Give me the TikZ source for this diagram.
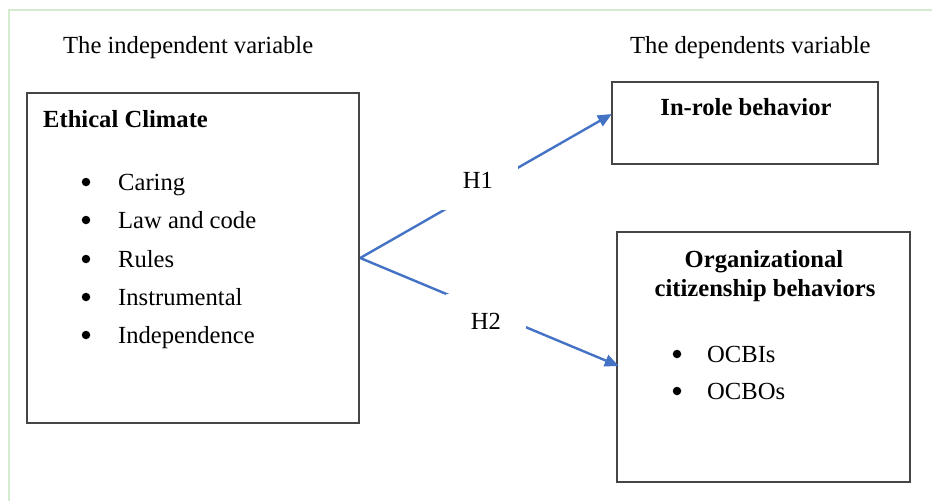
\documentclass[tikz,border=0pt]{standalone}
\usepackage{fontspec}
\setmainfont{Liberation Serif}
\usetikzlibrary{arrows.meta,calc}
\definecolor{boxline}{HTML}{454545}
\definecolor{arrowblue}{HTML}{4472C4}
\definecolor{framegreen}{HTML}{D5EBCF}
\tikzset{
  box/.style={draw=boxline, line width=2.4pt, rectangle, inner sep=0pt},
  txt/.style={inner sep=0pt, anchor=base west, font=\fontsize{24.6}{28}\selectfont},
  bold/.style={txt, font=\fontsize{24.6}{28}\selectfont\bfseries},
  bul/.style={circle, fill=black, inner sep=0pt, minimum size=8.5pt},
  hyp/.style={fill=white, inner sep=0pt, minimum width=80pt, minimum height=57pt, font=\fontsize{24.6}{28}\selectfont},
  conn/.style={draw=arrowblue, line width=2.4pt, -{Triangle[length=14pt,width=12pt]}}
}
\begin{document}
\begin{tikzpicture}[x=1pt,y=-1pt]
\useasboundingbox (0,0) rectangle (932,501);
% faint frame
\draw[framegreen, line width=1.5pt] (9,501) -- (9,10) -- (932,10);
% headings
\node[txt] (hindep) at (63,53) {The independent variable};
\node[txt] (hdep) at (630,53) {The dependents variable};
% boxes
\node[box, minimum width=332pt, minimum height=330pt] (ec) at (193,258) {};
\node[box, minimum width=266pt, minimum height=82pt] (ir) at (745,123) {};
\node[box, minimum width=293pt, minimum height=250pt] (ocb) at (763.5,357) {};
% Ethical climate contents
\node[bold] (ectitle) at (43,127) {Ethical Climate};
\foreach \t/\yy [count=\i] in {Caring/190, Law and code/228, Rules/267, Instrumental/305, Independence/343}{
  \node[bul] (ecb\i) at (86,\yy-8) {};
  \node[txt] (ect\i) at (118,\yy) {\t};
}
% In-role
\node[bold, anchor=base] (irtitle) at (746,115) {In-role behavior};
% OCB
\node[bold, anchor=base] (ocbt1) at (764,267) {Organizational};
\node[bold, anchor=base] (ocbt2) at (765,296) {citizenship behaviors};
\node[bul] (ocbb1) at (677,354) {};
\node[txt] (ocbi) at (707,362) {OCBIs};
\node[bul] (ocbb2) at (677,391) {};
\node[txt] (ocbo) at (707,399) {OCBOs};
% connectors
\coordinate (irin) at ($(ir.west)+(1pt,9pt)$);
\coordinate (ocbin) at ($(ocb.west)+(3pt,-9pt)$);
\draw[conn] (ec.east) -- (irin);
\draw[conn] (ec.east) -- (ocbin);
% hypothesis labels covering the lines
\node[hyp] (h1) at (478,181.5) {\raisebox{3pt}{H1}};
\node[hyp] (h2) at (486,322.5) {\raisebox{3pt}{H2}};
\end{tikzpicture}
\end{document}
